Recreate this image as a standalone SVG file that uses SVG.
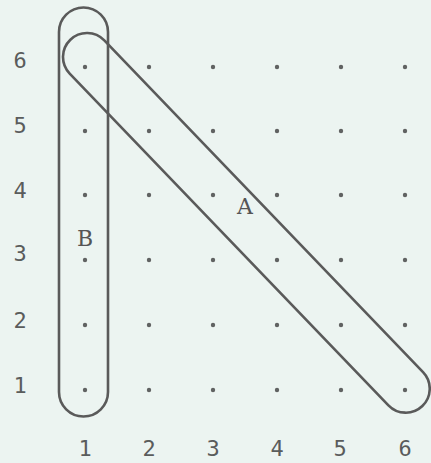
<svg xmlns="http://www.w3.org/2000/svg" width="431" height="463" viewBox="0 0 431 463">
<style>
.num{font-family:"DejaVu Sans Mono","Liberation Mono",monospace;font-size:22px;fill:#5a5c5c;text-anchor:middle;dominant-baseline:central}
.lbl{font-family:"DejaVu Serif","Liberation Serif",serif;font-size:22px;fill:#555;text-anchor:middle}
.dot{fill:#606262}
.loop{fill:none;stroke:#5a5a5a;stroke-width:2.6}
</style>
<rect width="431" height="463" fill="#ecf4f1"/>
<g id="dots">
<g id="row6"><circle class="dot" cx="85" cy="67" r="2.2"/><circle class="dot" cx="149" cy="67" r="2.2"/><circle class="dot" cx="213" cy="67" r="2.2"/><circle class="dot" cx="277" cy="67" r="2.2"/><circle class="dot" cx="341" cy="67" r="2.2"/><circle class="dot" cx="405" cy="67" r="2.2"/></g>
<g id="row5"><circle class="dot" cx="85" cy="131" r="2.2"/><circle class="dot" cx="149" cy="131" r="2.2"/><circle class="dot" cx="213" cy="131" r="2.2"/><circle class="dot" cx="277" cy="131" r="2.2"/><circle class="dot" cx="341" cy="131" r="2.2"/><circle class="dot" cx="405" cy="131" r="2.2"/></g>
<g id="row4"><circle class="dot" cx="85" cy="195" r="2.2"/><circle class="dot" cx="149" cy="195" r="2.2"/><circle class="dot" cx="213" cy="195" r="2.2"/><circle class="dot" cx="277" cy="195" r="2.2"/><circle class="dot" cx="341" cy="195" r="2.2"/><circle class="dot" cx="405" cy="195" r="2.2"/></g>
<g id="row3"><circle class="dot" cx="85" cy="260" r="2.2"/><circle class="dot" cx="149" cy="260" r="2.2"/><circle class="dot" cx="213" cy="260" r="2.2"/><circle class="dot" cx="277" cy="260" r="2.2"/><circle class="dot" cx="341" cy="260" r="2.2"/><circle class="dot" cx="405" cy="260" r="2.2"/></g>
<g id="row2"><circle class="dot" cx="85" cy="325" r="2.2"/><circle class="dot" cx="149" cy="325" r="2.2"/><circle class="dot" cx="213" cy="325" r="2.2"/><circle class="dot" cx="277" cy="325" r="2.2"/><circle class="dot" cx="341" cy="325" r="2.2"/><circle class="dot" cx="405" cy="325" r="2.2"/></g>
<g id="row1"><circle class="dot" cx="85" cy="390" r="2.2"/><circle class="dot" cx="149" cy="390" r="2.2"/><circle class="dot" cx="213" cy="390" r="2.2"/><circle class="dot" cx="277" cy="390" r="2.2"/><circle class="dot" cx="341" cy="390" r="2.2"/><circle class="dot" cx="405" cy="390" r="2.2"/></g>
</g>
<g id="axis-labels">
<text class="num" x="20" y="60">6</text>
<text class="num" x="20" y="125">5</text>
<text class="num" x="20" y="190">4</text>
<text class="num" x="20" y="253">3</text>
<text class="num" x="20" y="320">2</text>
<text class="num" x="20" y="385">1</text>
<text class="num" x="85" y="448">1</text>
<text class="num" x="149" y="448">2</text>
<text class="num" x="213" y="448">3</text>
<text class="num" x="277" y="448">4</text>
<text class="num" x="340" y="448">5</text>
<text class="num" x="405" y="448">6</text>
</g>
<g id="B">
<path class="loop" d="M59 32 A24.5 24.5 0 0 1 108 32 L108 392 A24.5 24.5 0 0 1 59 392 Z"/>
<text class="lbl" x="85" y="246">B</text>
</g>
<g id="A">
<g transform="translate(87 57) rotate(46.14)">
<path class="loop" d="M0 -24 L460 -24 A24 24 0 0 1 460 24 L0 24 A24 24 0 0 1 0 -24 Z"/>
</g>
<text class="lbl" x="245" y="214">A</text>
</g>
</svg>
